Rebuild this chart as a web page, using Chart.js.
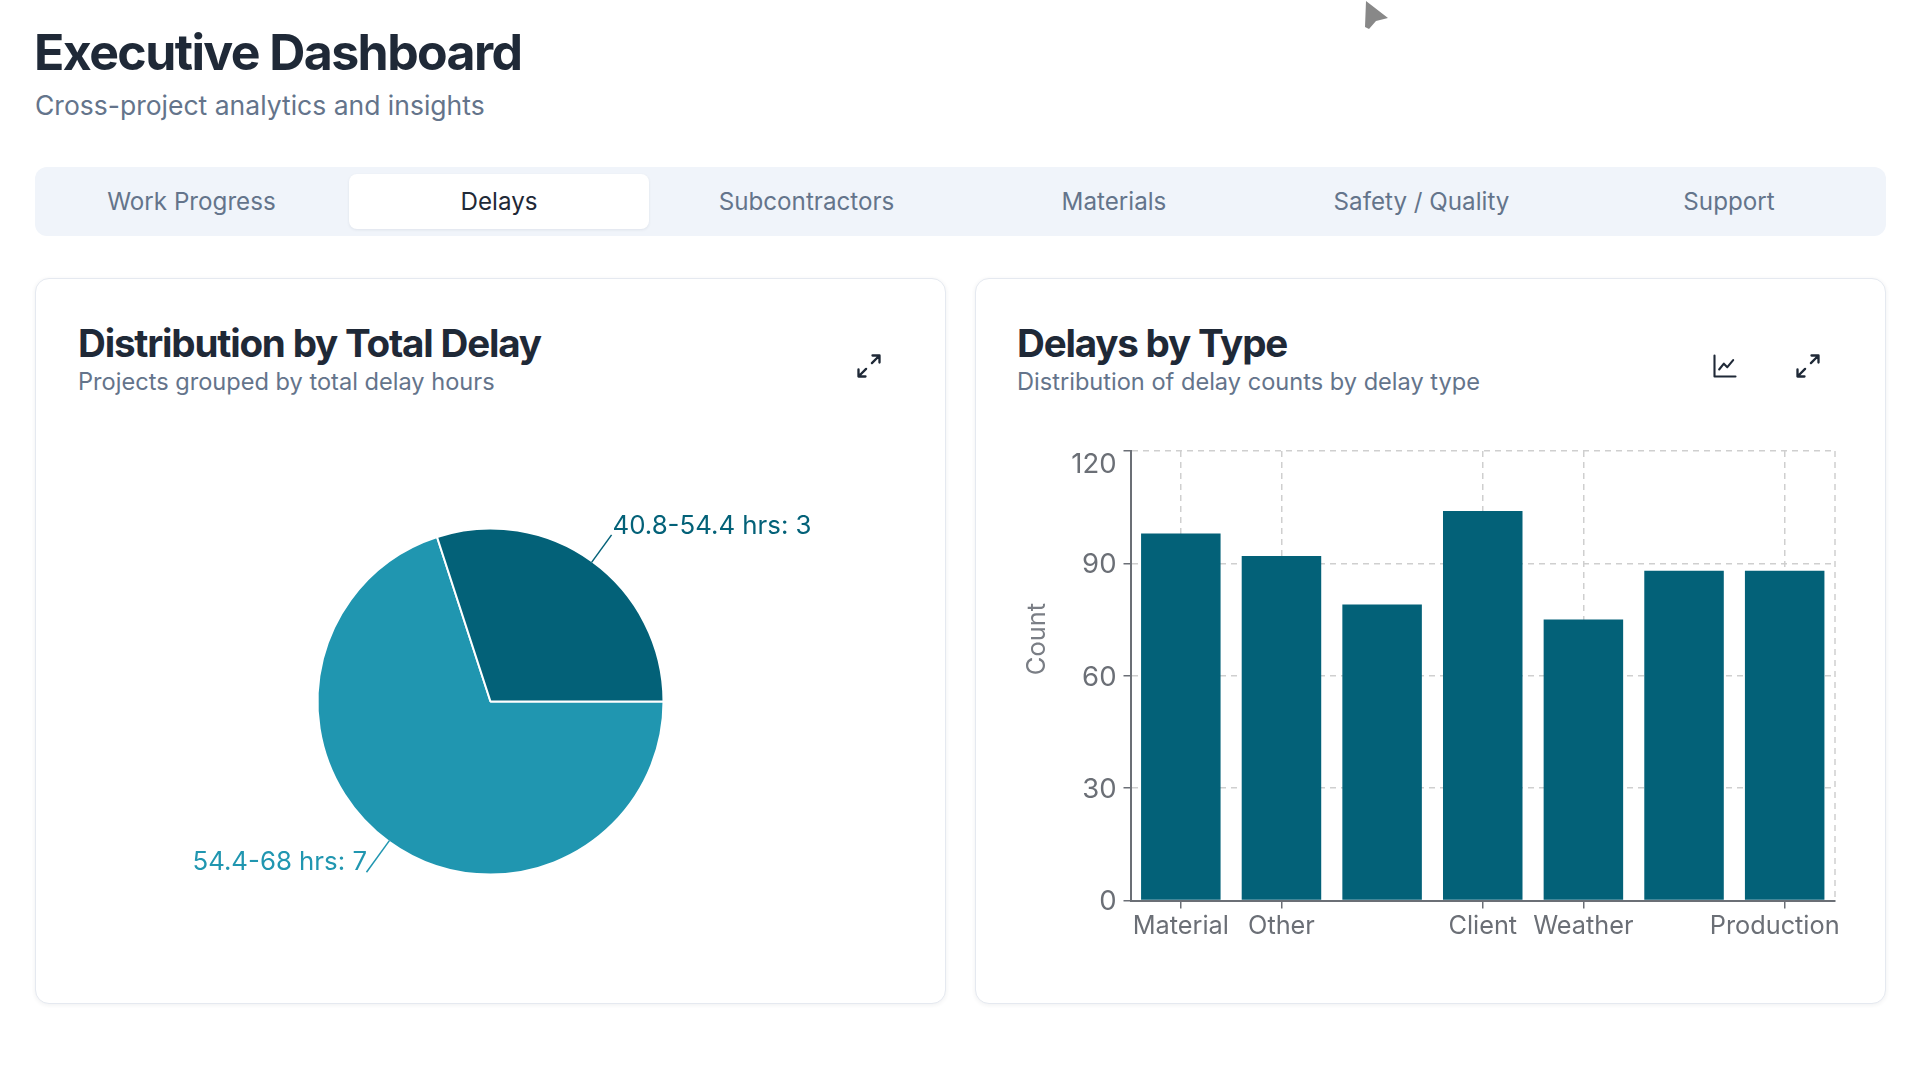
<!DOCTYPE html>
<html lang="en">
<head>
<meta charset="utf-8">
<title>Executive Dashboard</title>
<script src="https://cdn.jsdelivr.net/npm/chart.js@4"></script>
<style>
  html, body { margin: 0; padding: 0; background: #fff; }
  body { width: 1920px; height: 1081px; position: relative; overflow: hidden; font-family: Inter, sans-serif; }
  .abs { position: absolute; white-space: nowrap; }
  h1 { margin: 0; left: 34px; top: 22px; font-size: 50px; line-height: 60px; font-weight: 700; color: #1f2937; letter-spacing: -1.6px; }
  .sub { left: 35px; top: 87px; font-size: 26.5px; line-height: 36px; color: #64748b; }
  .tabs { left: 35px; top: 167px; width: 1851px; height: 69px; background: #f0f4fa; border-radius: 12px; }
  .tab { position: absolute; top: 7px; height: 55px; line-height: 55px; width: 300px; text-align: center; font-size: 24.2px; color: #64748b; }
  .tab.on { background: #fff; color: #1f2937; border-radius: 8px; box-shadow: 0 1px 3px rgba(30,41,59,.08); }
  .card { position: absolute; top: 278px; width: 911px; height: 726px; background: #fff; border: 1px solid #e5e9f0; border-radius: 14px; box-shadow: 0 1px 4px rgba(30,41,59,.07); box-sizing: border-box; }
  .ct { top: 319px; font-size: 38.6px; line-height: 48px; font-weight: 700; color: #1f2937; letter-spacing: -1.2px; }
  .cs { top: 367px; font-size: 23.6px; line-height: 30px; color: #64748b; }
  canvas { position: absolute; }
  svg { position: absolute; }
</style>
</head>
<body>
<svg style="left:1360px;top:0" width="34" height="34" viewBox="1360 0 34 34"><path d="M1366 1 L1388 18 L1376 21 L1369 29 L1365 27 Z" fill="#888"/></svg>
<h1 class="abs">Executive Dashboard</h1>
<div class="abs sub">Cross-project analytics and insights</div>
<div class="abs tabs" id="tabs"></div>

<div class="card" style="left:35px"></div>
<div class="card" style="left:975px"></div>

<div class="abs ct" style="left:78px">Distribution by Total Delay</div>
<div class="abs cs" style="left:78px">Projects grouped by total delay hours</div>
<div class="abs ct" style="left:1017px">Delays by Type</div>
<div class="abs cs" style="left:1017px">Distribution of delay counts by delay type</div>

<svg style="left:855px;top:352px" width="28" height="28" viewBox="0 0 24 24" fill="none" stroke="#1f2937" stroke-width="2" stroke-linecap="round" stroke-linejoin="round"><path d="M14.5 9.5 21 3M15 3h6v6M9.5 14.5 3 21M3 15v6h6"/></svg>
<svg style="left:1711px;top:352px" width="28" height="28" viewBox="0 0 24 24" fill="none" stroke="#1f2937" stroke-width="1.8" stroke-linecap="round" stroke-linejoin="round"><path d="M3 3v18h18M7 15l4-5 3 3 5-6"/></svg>
<svg style="left:1794px;top:352px" width="28" height="28" viewBox="0 0 24 24" fill="none" stroke="#1f2937" stroke-width="2" stroke-linecap="round" stroke-linejoin="round"><path d="M14.5 9.5 21 3M15 3h6v6M9.5 14.5 3 21M3 15v6h6"/></svg>

<canvas id="pie" style="left:36px;top:440px" width="909" height="523"></canvas>
<canvas id="bars" style="left:1000px;top:430px" width="880" height="530"></canvas>

<script>
const tabNames = ['Work Progress', 'Delays', 'Subcontractors', 'Materials', 'Safety / Quality', 'Support'];
const activeTab = 'Delays';

const pieLabels = ['54.4-68 hrs', '40.8-54.4 hrs'];
const pieValues = [7, 3];
const pieColors = ['#2096b0', '#036178'];

// Blank entries are categories whose axis label is left out.
const barCategories = ['Material', 'Other', '', 'Client', 'Weather', '', 'Production'];
const barValues = [98, 92, 79, 104, 75, 88, 88];
const barColor = '#036178';
const axisTitle = 'Count';
const yMax = 120;
const yStep = 30;

const fontFamily = 'Inter, sans-serif';
const axisGrey = '#6b6f76';
const gridGrey = '#cfcfcf';

const tabsEl = document.getElementById('tabs');
tabNames.forEach((name, i) => {
  const el = document.createElement('div');
  el.className = 'tab' + (name === activeTab ? ' on' : '');
  el.textContent = name;
  el.style.left = (6.5 + i * 307.5) + 'px';
  tabsEl.appendChild(el);
});

// Leader lines and "label: value" captions outside each slice.
const sliceCaptions = {
  id: 'sliceCaptions',
  afterDatasetsDraw(chart) {
    const { ctx } = chart;
    chart.getDatasetMeta(0).data.forEach((arc, i) => {
      const mid = (arc.startAngle + arc.endAngle) / 2;
      const cos = Math.cos(mid), sin = Math.sin(mid);
      const right = cos > 0;
      const leader = right ? 33 : 38;
      const x0 = arc.x + cos * (arc.outerRadius - 1), y0 = arc.y + sin * (arc.outerRadius - 1);
      const x1 = arc.x + cos * (arc.outerRadius + leader), y1 = arc.y + sin * (arc.outerRadius + leader);
      const xt = arc.x + cos * (arc.outerRadius + 38), yt = arc.y + sin * (arc.outerRadius + 38);
      ctx.save();
      ctx.strokeStyle = pieColors[i];
      ctx.lineWidth = 1.5;
      ctx.beginPath(); ctx.moveTo(x0, y0); ctx.lineTo(x1, y1); ctx.stroke();
      ctx.fillStyle = pieColors[i];
      ctx.font = '25.8px ' + fontFamily;
      ctx.textBaseline = 'middle';
      ctx.textAlign = right ? 'left' : 'right';
      ctx.fillText(pieLabels[i] + ': ' + pieValues[i], xt + (right ? -2 : 0.5), yt + (right ? -5 : -10));
      ctx.restore();
    });
  }
};

new Chart(document.getElementById('pie'), {
  type: 'pie',
  data: {
    labels: pieLabels,
    datasets: [{ data: pieValues, backgroundColor: pieColors, borderColor: '#ffffff', borderWidth: 2, radius: 173 }]
  },
  options: {
    responsive: false,
    animation: false,
    rotation: 90,
    plugins: { legend: { display: false }, tooltip: { enabled: false } }
  },
  plugins: [sliceCaptions]
});

// Closes the plot on the right, places the axis title and keeps edge labels inside the plot.
const axisExtras = {
  id: 'axisExtras',
  beforeDraw(chart) {
    const { x, y } = chart.scales;
    y.getLabelItems().forEach(it => {
      if (it.nudged) return;
      it.nudged = true;
      it.options.translation[1] += it.label === String(yMax) ? 14 : 1.5;
    });
    const xItems = x.getLabelItems();
    const last = xItems[xItems.length - 1];
    if (last && !last.nudged) { last.options.translation[0] -= 10; last.nudged = true; }
  },
  beforeDatasetsDraw(chart) {
    const { ctx, chartArea: a } = chart;
    ctx.save();
    ctx.strokeStyle = gridGrey;
    ctx.lineWidth = 1.5;
    ctx.setLineDash([6, 5]);
    ctx.beginPath(); ctx.moveTo(a.right, a.top); ctx.lineTo(a.right, a.bottom); ctx.stroke();
    ctx.restore();
  },
  afterDraw(chart) {
    const { ctx } = chart;
    ctx.save();
    ctx.translate(37.5, 209);
    ctx.rotate(-Math.PI / 2);
    ctx.font = '25.5px ' + fontFamily;
    ctx.fillStyle = '#7a7e85';
    ctx.textAlign = 'center';
    ctx.textBaseline = 'middle';
    ctx.fillText(axisTitle, 0, 0);
    ctx.restore();
  }
};

new Chart(document.getElementById('bars'), {
  type: 'bar',
  data: {
    labels: barCategories,
    datasets: [{ data: barValues, backgroundColor: barColor, barPercentage: 0.79, categoryPercentage: 1 }]
  },
  options: {
    responsive: false,
    animation: false,
    layout: { padding: { top: 21, right: 45, bottom: 0, left: 0 } },
    plugins: { legend: { display: false }, tooltip: { enabled: false } },
    scales: {
      x: {
        offset: true,
        afterFit(s) { s.height = 59.5; s.paddingLeft = 0; s.paddingRight = 0; },
        border: { display: true, color: axisGrey, width: 2, dash: [6, 5] },
        grid: {
          offset: false,
          color: c => barCategories[c.index] ? gridGrey : 'transparent',
          lineWidth: 1.5,
          tickColor: c => barCategories[c.index] ? axisGrey : 'transparent',
          tickBorderDash: [],
          tickLength: 8
        },
        ticks: {
          autoSkip: false, maxRotation: 0, padding: 3,
          color: axisGrey, font: { family: fontFamily, size: 25.3 }
        }
      },
      y: {
        min: 0, max: yMax,
        afterFit(s) { s.width = 130.5; s.paddingTop = 0; s.paddingBottom = 0; },
        border: { display: true, color: axisGrey, width: 2, dash: [6, 5] },
        grid: {
          color: gridGrey, lineWidth: 1.5,
          tickColor: axisGrey, tickBorderDash: [], tickLength: 7
        },
        ticks: {
          stepSize: yStep, padding: 7,
          color: axisGrey, font: { family: fontFamily, size: 27.5 }
        }
      }
    }
  },
  plugins: [axisExtras]
});
</script>
</body>
</html>
